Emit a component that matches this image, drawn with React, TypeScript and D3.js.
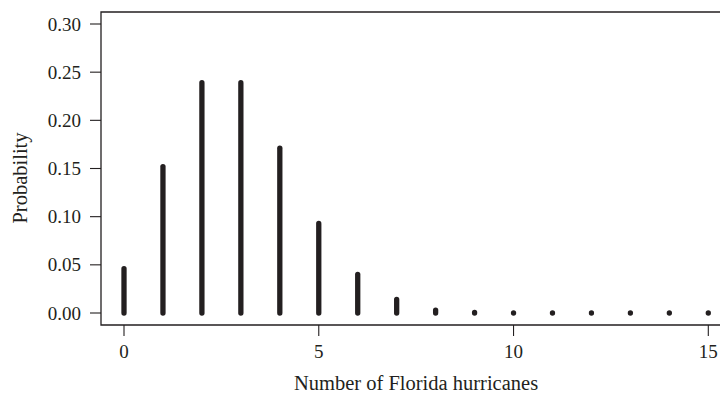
import React from "react";
import * as d3 from "d3";

const counts = [0, 1, 2, 3, 4, 5, 6, 7, 8, 9, 10, 11, 12, 13, 14, 15];
const probs = [0.046, 0.152, 0.239, 0.239, 0.171, 0.093, 0.040, 0.014, 0.003, 0.0007, 0.0002, 0.00005, 0, 0, 0, 0];
const yTicks = [0, 0.05, 0.1, 0.15, 0.2, 0.25, 0.3];
const xTicks = [0, 5, 10, 15];

const W = 720;
const H = 396;
const ink = "#231f20";
const font = "'Liberation Serif', 'DejaVu Serif', serif";

export default function App() {
  const x = d3.scaleLinear().domain([0, 15]).range([124, 708.3]);
  const y = d3.scaleLinear().domain([0, 0.3]).range([313, 24]);
  const boxL = 101, boxT = 12, boxB = 325;
  return (
    <svg width={W} height={H} style={{ position: "absolute", left: 0, top: 0 }}>
      <rect width={W} height={H} fill="white" />
      <path d={`M${W + 5},${boxT}H${boxL}V${boxB}H${W + 5}`} fill="none" stroke={ink} strokeWidth={1.3} />
      {yTicks.map((t) => (
        <g key={t}>
          <line x1={90} x2={boxL} y1={y(t)} y2={y(t)} stroke={ink} strokeWidth={1.1} />
          <text x={81} y={y(t)} dy="0.35em" textAnchor="end" fontFamily={font} fontSize={19} fill={ink}>
            {d3.format(".2f")(t)}
          </text>
        </g>
      ))}
      {xTicks.map((t) => (
        <g key={t}>
          <line x1={x(t)} x2={x(t)} y1={boxB} y2={336} stroke={ink} strokeWidth={1.1} />
          <text x={x(t)} y={358} textAnchor="middle" fontFamily={font} fontSize={19} fill={ink}>
            {t}
          </text>
        </g>
      ))}
      {counts.map((c, i) => (
        <line
          key={c}
          x1={x(c)}
          x2={x(c)}
          y1={y(0)}
          y2={y(probs[i])}
          stroke={ink}
          strokeWidth={5.3}
          strokeLinecap="round"
        />
      ))}
      <text x={416} y={390} textAnchor="middle" fontFamily={font} fontSize={20.5} fill={ink}>
        Number of Florida hurricanes
      </text>
      <text
        transform={`translate(27,178) rotate(-90)`}
        textAnchor="middle"
        fontFamily={font}
        fontSize={20.5}
        fill={ink}
      >
        Probability
      </text>
    </svg>
  );
}
